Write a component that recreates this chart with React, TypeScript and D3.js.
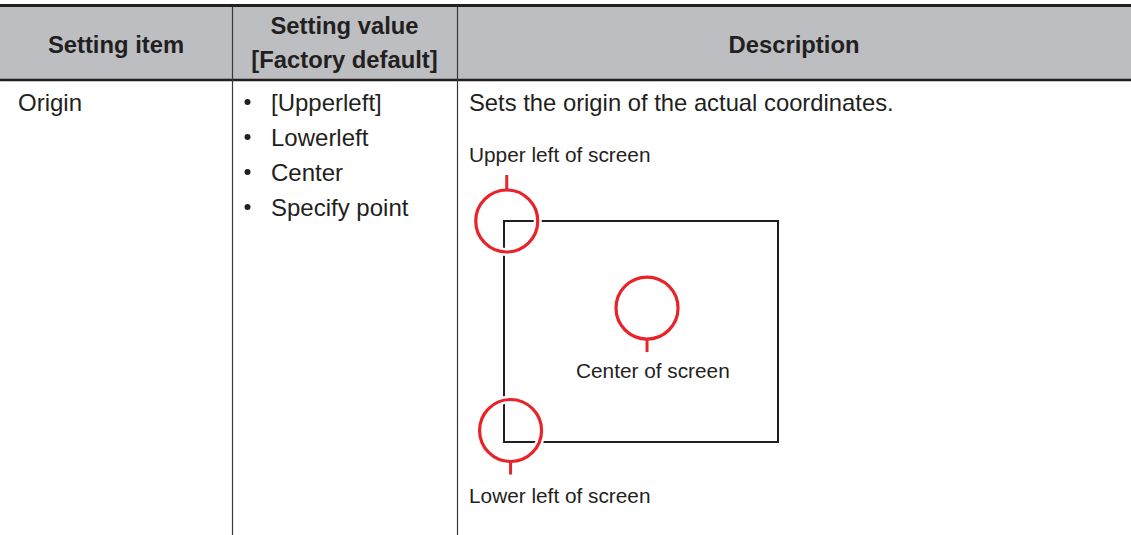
import React from 'react';
import * as d3 from 'd3';

// table text
const headers = ['Setting item', 'Setting value|[Factory default]', 'Description'];
const settingItem = 'Origin';
const settingValues = ['[Upperleft]', 'Lowerleft', 'Center', 'Specify point'];
const description = 'Sets the origin of the actual coordinates.';

// origin markers, in fractions of the screen rectangle
const markerLabels = ['Upper left of screen', 'Center of screen', 'Lower left of screen'];
const markerFx = [0.01, 0.522, 0.024];
const markerFy = [0.0, 0.394, 0.948];
const markerTick = ['up', 'down', 'down'];

const W = 1131;
const H = 535;
const colEdges = [0, 232, 457, W];
const ink = '#231f20';
const red = '#e8242b';
const font = '"Liberation Sans", Arial, Helvetica, sans-serif';

export default function App() {
  // screen rectangle mapped from 0..1
  const sx = d3.scaleLinear().domain([0, 1]).range([504, 778]);
  const sy = d3.scaleLinear().domain([0, 1]).range([221, 442]);
  // rows of the bullet list
  const rowY = d3.scaleLinear().domain([0, 1]).range([110.5, 145.5]);
  const r = 31;

  const markers = markerLabels.map((label, i) => ({
    label,
    cx: sx(markerFx[i]),
    cy: sy(markerFy[i]),
    tick: markerTick[i],
  }));

  return (
    <svg width={W} height={H} style={{ position: 'absolute', left: 0, top: 0, background: '#fff' }} fontFamily={font}>
      {/* header band */}
      <rect x={0} y={6} width={W} height={74} fill="#bdbec1" />
      <line x1={0} x2={W} y1={5.5} y2={5.5} stroke={ink} strokeWidth={3} />
      <line x1={0} x2={W} y1={80} y2={80} stroke={ink} strokeWidth={2.5} />
      {colEdges.slice(1, 3).map((x) => (
        <line key={x} x1={x + 0.5} x2={x + 0.5} y1={7} y2={H} stroke="#3a3a3a" strokeWidth={1.2} />
      ))}
      {headers.map((h, i) => {
        const cx = (colEdges[i] + colEdges[i + 1]) / 2;
        const lines = h.split('|');
        return (
          <text key={h} x={cx} textAnchor="middle" fontWeight="bold" fontSize={23.8} fill={ink}>
            {lines.map((l, j) => (
              <tspan key={l} x={cx} y={lines.length === 1 ? 52.5 : 33.5 + j * 34}>{l}</tspan>
            ))}
          </text>
        );
      })}

      {/* body */}
      <text x={18} y={rowY(0)} fontSize={24} fill={ink}>{settingItem}</text>
      {settingValues.map((v, i) => (
        <g key={v}>
          <circle cx={247.5} cy={rowY(i) - 8.5} r={3} fill={ink} />
          <text x={271} y={rowY(i)} fontSize={24} fill={ink}>{v}</text>
        </g>
      ))}
      <text x={469} y={rowY(0)} fontSize={23.8} fill={ink}>{description}</text>

      {/* screen diagram */}
      <rect x={sx(0)} y={sy(0)} width={sx(1) - sx(0)} height={sy(1) - sy(0)} fill="none" stroke={ink} strokeWidth={2} />
      {markers.map((m) => (
        <g key={m.label}>
          <circle cx={m.cx} cy={m.cy} r={r} fill="none" stroke="#fff" strokeWidth={8} />
          <circle cx={m.cx} cy={m.cy} r={r} fill="none" stroke={red} strokeWidth={3.2} />
          <line
            x1={m.cx}
            x2={m.cx}
            y1={m.tick === 'up' ? m.cy - r : m.cy + r}
            y2={m.tick === 'up' ? m.cy - r - 15 : m.cy + r + 13}
            stroke={red}
            strokeWidth={3}
          />
        </g>
      ))}
      <text x={469} y={162} fontSize={20.8} fill={ink}>{markers[0].label}</text>
      <text x={576} y={378} fontSize={20.8} fill={ink}>{markers[1].label}</text>
      <text x={469} y={503} fontSize={20.8} fill={ink}>{markers[2].label}</text>
    </svg>
  );
}
